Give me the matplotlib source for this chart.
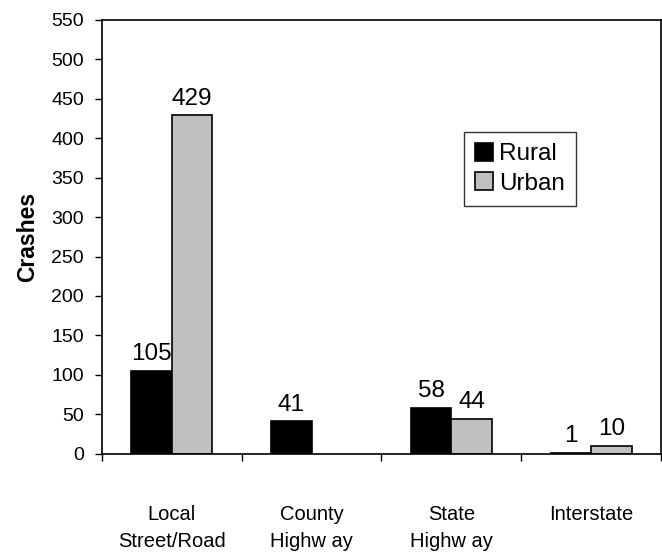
import matplotlib.pyplot as plt
import numpy as np

categories = ["Local\nStreet/Road", "County\nHighw ay", "State\nHighw ay", "Interstate"]
rural = [105, 41, 58, 1]
urban = [429, None, 44, 10]

plt.rcParams['font.family'] = ['Liberation Sans', 'DejaVu Sans']

fig = plt.figure(figsize=(6.62, 5.52), dpi=100)
ax = fig.add_axes([0.154, 0.178, 0.8445, 0.786])

x = np.arange(len(categories))
w = 0.29
r_vals = [np.nan if v is None else v for v in rural]
u_vals = [np.nan if v is None else v for v in urban]
b1 = ax.bar(x - w / 2, r_vals, w, color='black', edgecolor='black', linewidth=1.2, label='Rural')
b2 = ax.bar(x + w / 2, u_vals, w, color='#c0c0c0', edgecolor='black', linewidth=1.2, label='Urban')

for bars, vals in ((b1, rural), (b2, urban)):
    for b, v in zip(bars, vals):
        if v is None:
            continue
        ax.annotate(str(v), (b.get_x() + b.get_width() / 2, v), xytext=(0, 4),
                    textcoords='offset points', ha='center', va='bottom', fontsize=17.5)

ax.set_xlim(-0.5, len(categories) - 0.5)
ax.set_ylim(0, 550)
ax.set_yticks(np.arange(0, 551, 50))
ax.set_xticks(x)
ax.set_xticklabels(categories, fontsize=14.5, linespacing=1.55)
ax.set_xticks(np.arange(-0.5, len(categories)), minor=True)
ax.tick_params(axis='x', which='major', length=0, pad=37)
ax.tick_params(axis='x', which='minor', length=5, width=1, direction='out')
ax.tick_params(axis='y', labelsize=14, length=5, width=1, direction='out', pad=8)
for s in ax.spines.values():
    s.set_linewidth(1.2)

ax.set_ylabel("Crashes", fontsize=16.5, fontweight='bold', labelpad=9)

leg = ax.legend(loc='upper left', bbox_to_anchor=(0.648, 0.742), borderaxespad=0,
                fontsize=17.5, frameon=True, fancybox=False, edgecolor='black',
                handlelength=0.75, handleheight=0.75, handletextpad=0.25,
                borderpad=0.45, labelspacing=0.3)
leg.get_frame().set_linewidth(1)

fig.savefig("out.png", dpi=100)
